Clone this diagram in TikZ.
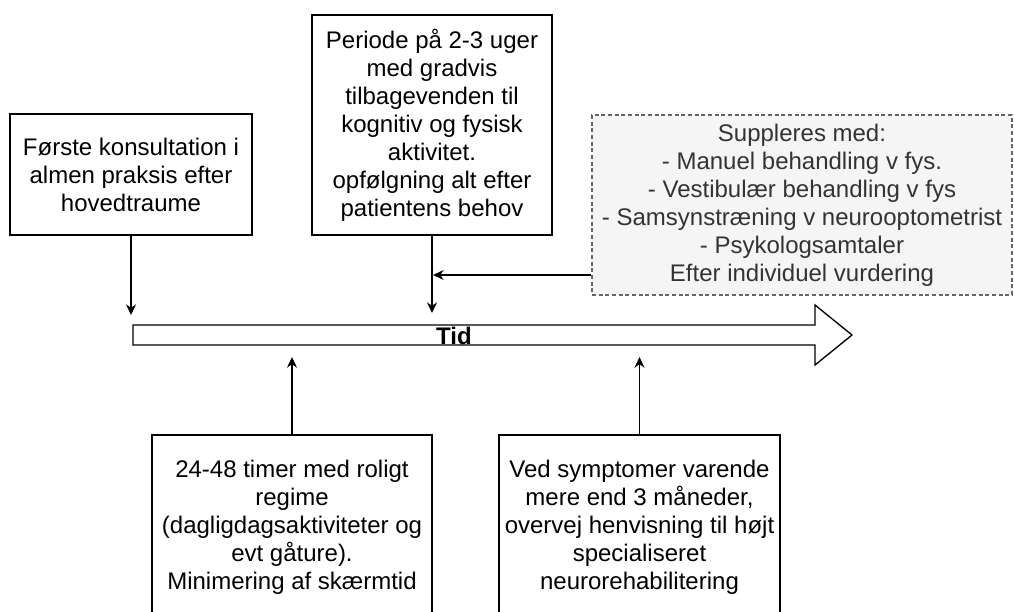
\documentclass[tikz,border=0pt]{standalone}
\usepackage{fontspec}
\setmainfont{Liberation Sans}
\usetikzlibrary{arrows.meta}

\definecolor{suppfill}{RGB}{245,245,245}
\definecolor{suppline}{RGB}{102,102,102}
\definecolor{supptext}{RGB}{51,51,51}

\tikzset{
  stepbox/.style={draw, line width=1pt, inner sep=0pt, align=center, font=\fontsize{18}{21}\selectfont},
  suppbox/.style={stepbox, draw=suppline, fill=suppfill, text=supptext, dash pattern=on 3pt off 2pt, line width=0.8pt},
  pil/.style={-{Stealth[length=8pt,width=7.5pt]}, line width=1pt}
}

\begin{document}
\begin{tikzpicture}[x=0.75pt,y=0.75pt,yscale=-1,xscale=1]
\useasboundingbox (0,0) rectangle (1014,611);
\clip (0,0) rectangle (1014,611);

%Shape: Timeline arrow
\draw [line width=1pt, fill=white] (133,325) -- (815,325) -- (815,305) -- (852,335) -- (815,365) -- (815,345) -- (133,345) -- cycle ;
% Text Node
\node (tid) at (454,336) [inner sep=0pt, font=\fontsize{18}{21}\selectfont\bfseries] {Tid};

% Text Node
\node (forste) at (131,174.5) [stepbox, minimum width=181.5pt, minimum height=90.75pt] {Første konsultation i\\almen praksis efter\\hovedtraume};
% Text Node
\node (periode) at (432,125) [stepbox, minimum width=180pt, minimum height=165pt] {Periode på 2-3 uger\\med gradvis\\tilbagevenden til\\kognitiv og fysisk\\aktivitet.\\opfølgning alt efter\\patientens behov};
% Text Node
\node (suppl) at (802,205) [suppbox, minimum width=315pt, minimum height=135pt] {Suppleres med:\\- Manuel behandling v fys.\\- Vestibulær behandling v fys\\- Samsynstræning v neurooptometrist\\- Psykologsamtaler\\Efter individuel vurdering};
% Text Node
\node (rolig) at (292,527) [stepbox, minimum width=210pt, minimum height=138pt] {24-48 timer med roligt\\regime\\(dagligdagsaktiviteter og\\evt gåture).\\Minimering af skærmtid};
% Text Node
\node (henvis) at (639.5,527) [stepbox, minimum width=210.75pt, minimum height=138pt] {Ved symptomer varende\\mere end 3 måneder,\\overvej henvisning til højt\\specialiseret\\neurorehabilitering};

%Points on the timeline
\coordinate (t1) at (131,315);
\coordinate (t2) at (432,313);
\coordinate (t3) at (292,357);
\coordinate (t4) at (639.5,357);
\coordinate (join) at (433,275);

%Straight Lines
\draw [pil] (forste.south) -- (t1);
\draw [pil] (periode.south) -- (t2);
\draw [pil] (suppl.west |- join) -- (join);
\draw [pil] (rolig.north) -- (t3);
\draw [pil] (henvis.north) -- (t4);

\end{tikzpicture}
\end{document}
